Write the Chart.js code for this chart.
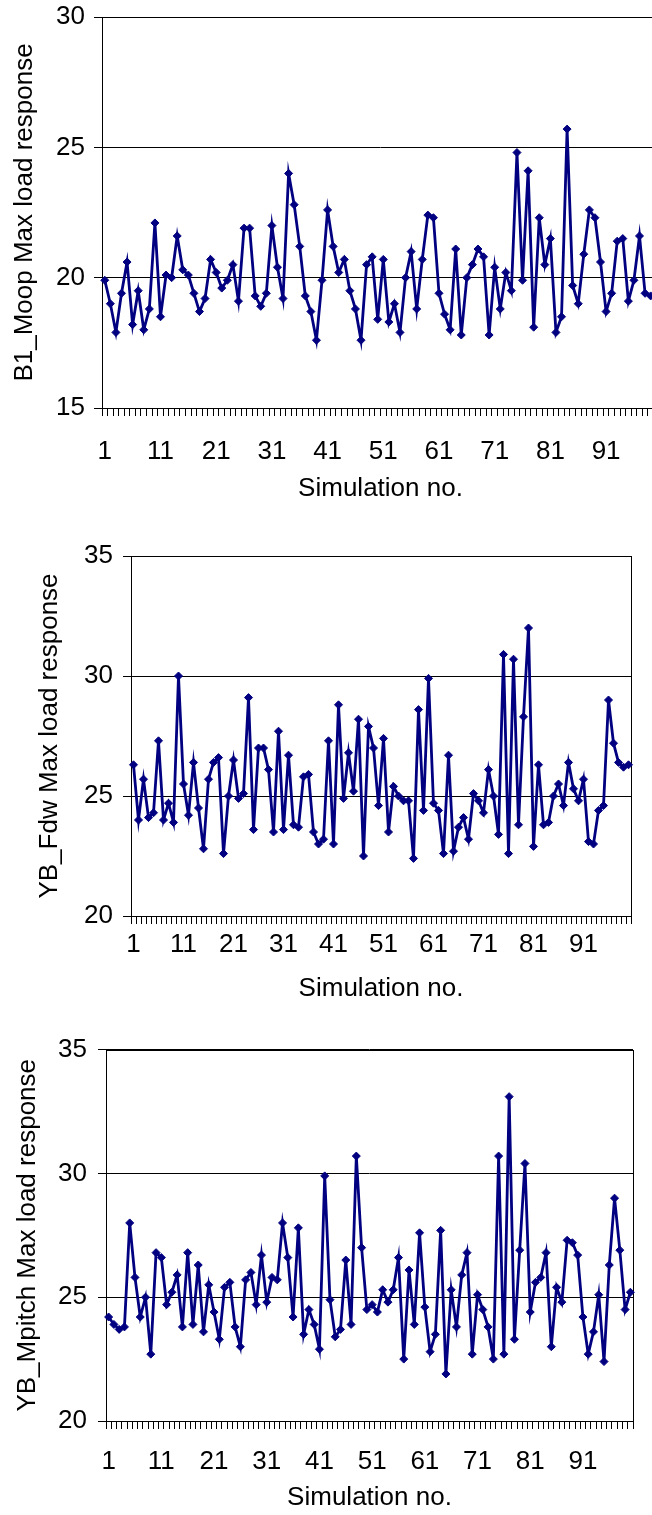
<!DOCTYPE html>
<html>
<head>
<meta charset="utf-8">
<script src="https://cdn.jsdelivr.net/npm/chart.js@4"></script>
<style>
html, body { margin: 0; padding: 0; background: #fff; overflow: hidden; }
body { width: 652px; height: 1515px; position: relative; }
canvas { display: block; position: absolute; left: 0; }
</style>
</head>
<body>
<canvas id="moop" width="680" height="529" style="top:-9px"></canvas>
<canvas id="fdw" width="660" height="500" style="top:530px"></canvas>
<canvas id="mpitch" width="660" height="492" style="top:1023px"></canvas>
<script>
// numero di simulazione (categorie)
const simNo = Array.from({ length: 100 }, (_, i) => i + 1);
const xTickLabels = ['1', '11', '21', '31', '41', '51', '61', '71', '81', '91'];

// B1_Moop
const moopValues = [
	19.9, 19.0, 17.9, 19.4, 20.6, 18.2, 19.5, 18.0, 18.8, 22.1,
	18.5, 20.1, 20.0, 21.6, 20.3, 20.1, 19.4, 18.7, 19.2, 20.7,
	20.2, 19.6, 19.9, 20.5, 19.1, 21.9, 21.9, 19.3, 18.9, 19.4,
	22.0, 20.4, 19.2, 24.0, 22.8, 21.2, 19.3, 18.7, 17.6, 19.9,
	22.6, 21.2, 20.2, 20.7, 19.5, 18.8, 17.6, 20.5, 20.8, 18.4,
	20.7, 18.3, 19.0, 17.9, 20.0, 21.0, 18.8, 20.7, 22.4, 22.3,
	19.4, 18.6, 18.0, 21.1, 17.8, 20.0, 20.5, 21.1, 20.8, 17.8,
	20.4, 18.8, 20.2, 19.5, 24.8, 19.9, 24.1, 18.1, 22.3, 20.5,
	21.5, 17.9, 18.5, 25.7, 19.7, 19.0, 20.9, 22.6, 22.3, 20.6,
	18.7, 19.4, 21.4, 21.5, 19.1, 19.9, 21.6, 19.4, 19.3, 19.2
];
// YB_Fdw
const fdwValues = [
	26.3, 24.0, 25.7, 24.1, 24.3, 27.3, 24.0, 24.7, 23.9, 30.0,
	25.5, 24.2, 26.4, 24.5, 22.8, 25.7, 26.4, 26.6, 22.6, 25.0,
	26.5, 24.9, 25.1, 29.1, 23.6, 27.0, 27.0, 26.1, 23.5, 27.7,
	23.6, 26.7, 23.8, 23.7, 25.8, 25.9, 23.5, 23.0, 23.2, 27.3,
	23.0, 28.8, 24.9, 26.8, 25.2, 28.2, 22.5, 27.9, 27.0, 24.6,
	27.4, 23.5, 25.4, 25.0, 24.8, 24.8, 22.4, 28.6, 24.4, 29.9,
	24.7, 24.4, 22.6, 26.7, 22.7, 23.7, 24.1, 23.2, 25.1, 24.8,
	24.3, 26.1, 25.0, 23.4, 30.9, 22.6, 30.7, 23.8, 28.3, 32.0,
	22.9, 26.3, 23.8, 23.9, 25.0, 25.5, 24.6, 26.4, 25.3, 24.8,
	25.7, 23.1, 23.0, 24.4, 24.6, 29.0, 27.2, 26.4, 26.2, 26.3
];
// YB_Mpitch
const mpitchValues = [
	24.2, 23.9, 23.7, 23.8, 28.0, 25.8, 24.2, 25.0, 22.7, 26.8,
	26.6, 24.7, 25.2, 25.9, 23.8, 26.8, 23.9, 26.3, 23.6, 25.5,
	24.4, 23.3, 25.4, 25.6, 23.8, 23.0, 25.7, 26.0, 24.7, 26.7,
	24.8, 25.8, 25.7, 28.0, 26.6, 24.2, 27.8, 23.5, 24.5, 23.9,
	22.9, 29.9, 24.9, 23.4, 23.7, 26.5, 23.9, 30.7, 27.0, 24.5,
	24.7, 24.4, 25.3, 24.8, 25.3, 26.6, 22.5, 26.1, 23.9, 27.6,
	24.6, 22.8, 23.5, 27.7, 21.9, 25.3, 23.8, 25.9, 26.8, 22.7,
	25.1, 24.5, 23.8, 22.5, 30.7, 22.7, 33.1, 23.3, 26.9, 30.4,
	24.4, 25.6, 25.8, 26.8, 23.0, 25.4, 24.8, 27.3, 27.2, 26.7,
	24.2, 22.7, 23.6, 25.1, 22.4, 26.3, 29.0, 26.9, 24.5, 25.2
];

(function(){
	const font = { family: "'Liberation Sans', Arial, sans-serif", size: 26 };

	// cornice dell'area del grafico
	const bordo = {
		id: 'bordo',
		beforeDatasetsDraw(chart){
			const a = chart.chartArea, c = chart.ctx;
			c.save();
			c.strokeStyle = '#000';
			c.lineWidth = 1;
			c.strokeRect(Math.round(a.left) + 0.5, Math.round(a.top) + 0.5, Math.round(a.right - a.left), Math.round(a.bottom - a.top));
			c.restore();
		}
	};

	function creaGrafico(id, valori, titolo, p){
		const canvas = document.getElementById(id);
		const ctx = canvas.getContext('2d');
		return new Chart(ctx, {
			type: 'line',
			data: {
				labels: simNo,
				datasets: [{
					data: valori,
					borderColor: '#000080',
					backgroundColor: '#000080',
					borderWidth: 2.8,
					tension: 0,
					pointStyle: 'rectRot',
					pointRadius: 4,
					pointBorderWidth: 1
				}]
			},
			options: {
				responsive: false,
				animation: false,
				events: [],
				layout: { padding: { top: 26, right: p.right, left: 0, bottom: 0 } },
				plugins: { legend: { display: false }, tooltip: { enabled: false } },
				scales: {
					x: {
						offset: true,
						grid: { offset: true, drawOnChartArea: false, drawTicks: true, tickLength: 8, color: '#000', lineWidth: 1 },
						border: { display: false },
						ticks: {
							autoSkip: false, maxRotation: 0, minRotation: 0,
							padding: p.xPad, color: '#000', font: font,
							callback: function(v, i){
								const s = String(simNo[i]);
								return xTickLabels.includes(s) ? s : '';
							}
						},
						title: { display: true, text: 'Simulation no.', color: '#000', font: font, padding: { top: 0, bottom: p.xTitlePad } },
						afterFit: function(s){ s.height = p.xH; }
					},
					y: {
						min: p.min, max: p.max,
						grid: { color: '#000', lineWidth: 1, tickLength: 8 },
						border: { display: false },
						ticks: { stepSize: 5, padding: p.yPad, color: '#000', font: font },
						title: { display: true, text: titolo, color: '#000', font: font, padding: { top: p.yTitlePad, bottom: 0 } },
						afterFit: function(s){ s.width = p.yW; }
					}
				}
			},
			plugins: [bordo]
		});
	}

	function start(){
		creaGrafico('moop', moopValues, 'B1_Moop Max load response',
			{ min: 15, max: 30, right: 21, yW: 102, xH: 112, xPad: 20, xTitlePad: 16, yPad: 9, yTitlePad: 9 });
		creaGrafico('fdw', fdwValues, 'YB_Fdw Max load response',
			{ min: 20, max: 35, right: 29, yW: 131, xH: 114, xPad: 5, xTitlePad: 26, yPad: 10, yTitlePad: 34 });
		creaGrafico('mpitch', mpitchValues, 'YB_Mpitch Max load response',
			{ min: 20, max: 35, right: 27, yW: 106, xH: 94, xPad: 17, xTitlePad: 2, yPad: 11, yTitlePad: 12 });
	}

	if(document.readyState === 'loading') document.addEventListener('DOMContentLoaded', start);
	else start();
})();
</script>
</body>
</html>
